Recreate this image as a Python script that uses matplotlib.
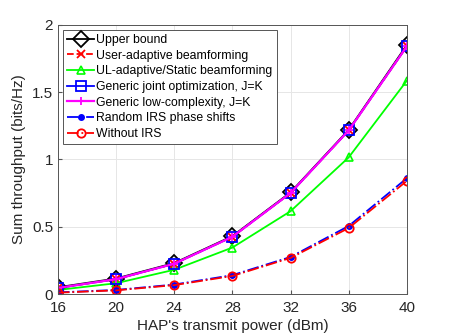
import matplotlib
matplotlib.use("Agg")
import matplotlib.pyplot as plt

plt.rcParams['font.family'] = ['Liberation Sans', 'DejaVu Sans']

# Daten
power_dbm = [16, 20, 24, 28, 32, 36, 40]
upper_bound = [0.05, 0.115, 0.23, 0.43, 0.755, 1.22, 1.85]
user_adaptive = [0.045, 0.11, 0.225, 0.425, 0.75, 1.215, 1.84]
ul_adaptive = [0.03, 0.08, 0.18, 0.345, 0.615, 1.015, 1.585]
generic_joint = [0.045, 0.11, 0.225, 0.425, 0.75, 1.215, 1.84]
generic_lowc = [0.045, 0.11, 0.225, 0.425, 0.75, 1.215, 1.84]
random_irs = [0.012, 0.03, 0.07, 0.14, 0.275, 0.505, 0.86]
without_irs = [0.01, 0.027, 0.066, 0.134, 0.268, 0.49, 0.84]

fig = plt.figure(figsize=(4.49, 3.36), dpi=100)
ax = fig.add_axes([0.129, 0.125, 0.777, 0.801])

ax.plot(power_dbm, upper_bound, color='black', marker='D', markersize=8,
        markerfacecolor='none', markeredgewidth=1.3, linewidth=1.3, label='Upper bound')
ax.plot(power_dbm, user_adaptive, color='red', linestyle='--', marker='x', markersize=6,
        markeredgewidth=1.3, linewidth=1.3, label='User-adaptive beamforming')
ax.plot(power_dbm, ul_adaptive, color='#00ff00', marker='^', markersize=6,
        markerfacecolor='none', markeredgewidth=1.2, linewidth=1.3,
        label='UL-adaptive/Static beamforming')
ax.plot(power_dbm, generic_joint, color='blue', marker='s', markersize=7,
        markerfacecolor='none', markeredgewidth=1.3, linewidth=1.3,
        label='Generic joint optimization, J=K')
ax.plot(power_dbm, generic_lowc, color='magenta', marker='+', markersize=6,
        markeredgewidth=1.3, linewidth=1.6, label='Generic low-complexity, J=K')
ax.plot(power_dbm, random_irs, color='blue', linestyle='-.', marker='.', markersize=8,
        linewidth=1.3, label='Random IRS phase shifts')
ax.plot(power_dbm, without_irs, color='red', linestyle='-.', marker='o', markersize=6,
        markerfacecolor='none', markeredgewidth=1.3, linewidth=1.3, label='Without IRS')

ax.set_xlim(16, 40)
ax.set_ylim(0, 2)
ax.set_xticks(power_dbm)
ax.set_yticks([0, 0.5, 1, 1.5, 2])
ax.set_yticklabels(['0', '0.5', '1', '1.5', '2'])
ax.tick_params(labelsize=11, direction='in', length=3, color='#555555', labelcolor='#262626')
ax.tick_params(axis='x', pad=5)
ax.grid(True, color='#e6e6e6', linewidth=0.7)
ax.set_axisbelow(True)
for s in ax.spines.values():
    s.set_color('#555555')
    s.set_linewidth(0.7)

ax.set_xlabel("HAP's transmit power (dBm)", fontsize=11, color='#262626', labelpad=3)
ax.set_ylabel('Sum throughput (bits/Hz)', fontsize=11, color='#262626', labelpad=4)

leg = ax.legend(loc='upper left', fontsize=8.8, handlelength=2.2, handletextpad=0.2,
                labelspacing=0.3, borderpad=0.35, fancybox=False, framealpha=1,
                edgecolor='#555555', borderaxespad=0.4)
leg.get_frame().set_linewidth(0.7)

fig.savefig('out.png', dpi=100)
